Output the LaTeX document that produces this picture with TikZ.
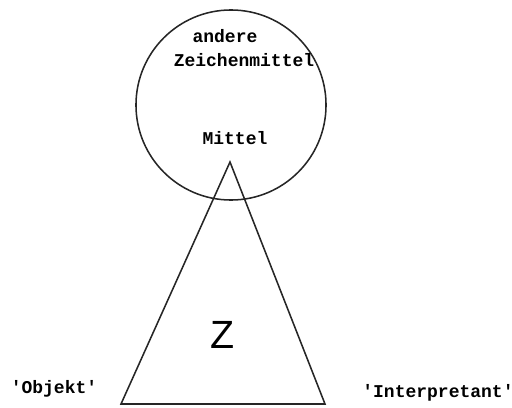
\documentclass[tikz,border=0pt]{standalone}
\usepackage{fontspec}
\setmonofont{Liberation Mono}
\setsansfont{Liberation Sans}
\usetikzlibrary{positioning}

\tikzset{schrift/.style={font=\ttfamily\bfseries\fontsize{12.8}{14}\selectfont, inner sep=0pt},
         linie/.style={line width=1.1pt, black!85}}

\begin{document}
\begin{tikzpicture}[x=0.025cm, y=-0.025cm]
\useasboundingbox (0,0) rectangle (512,407);

\node[circle, draw, linie, minimum size=4.75cm, inner sep=0pt] (kreis) at (231,105) {};

\coordinate (spitze) at (230,162);
\coordinate (links) at (121,404);
\coordinate (rechts) at (325,404);
\draw[linie, line join=miter] (spitze) -- (links) -- (rechts) -- cycle;

\node[schrift] (andere) at (225,36) {andere};
\node[schrift] (zeichen) at (244,60) {Zeichenmittel};
\node[schrift] (mittel) at (235,138) {Mittel};

\node[font=\sffamily\fontsize{28}{30}\selectfont, inner sep=0pt] (z) at (223,335) {Z};

\node[schrift] (objekt) at (54,389) {'Objekt'};
\node[schrift] (interp) at (438,393) {'Interpretant'};

\end{tikzpicture}
\end{document}
